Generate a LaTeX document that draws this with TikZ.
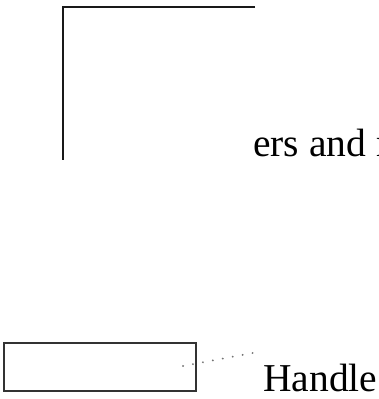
\documentclass[tikz,border=0pt]{standalone}
\usepackage{fontspec}
\setmainfont{Liberation Serif}
\begin{document}
\begin{tikzpicture}[x=1pt,y=1pt,
  frameline/.style={draw=black!90,line width=1.4pt},
  boxline/.style={draw=black!80,line width=1.6pt},
  dotline/.style={draw=black!55,line width=2pt,line cap=round,dash pattern=on 0.1pt off 10pt},
  bigtext/.style={font=\fontsize{39.5}{42}\selectfont,anchor=base west,inner sep=0pt}]
\useasboundingbox (0,0) rectangle (378,399);
\clip (0,0) rectangle (378,399);
% top frame
\coordinate (ftop) at (255,392);
\coordinate (fcorner) at (63,392);
\coordinate (fbot) at (63,239);
\draw[frameline] (ftop) -- (fcorner) -- (fbot);
\node[bigtext] (lbl) at (253,242) {ers and m};
% handle box
\node[boxline,minimum width=192pt,minimum height=48pt,inner sep=0pt,anchor=south west] (box) at (3,7) {};
\coordinate (dstart) at (183,33);
\coordinate (dend) at (258,47);
\draw[dotline] (dstart) -- (dend);
\node[bigtext] (handle) at (263,7.5) {Handle};
\end{tikzpicture}
\end{document}
